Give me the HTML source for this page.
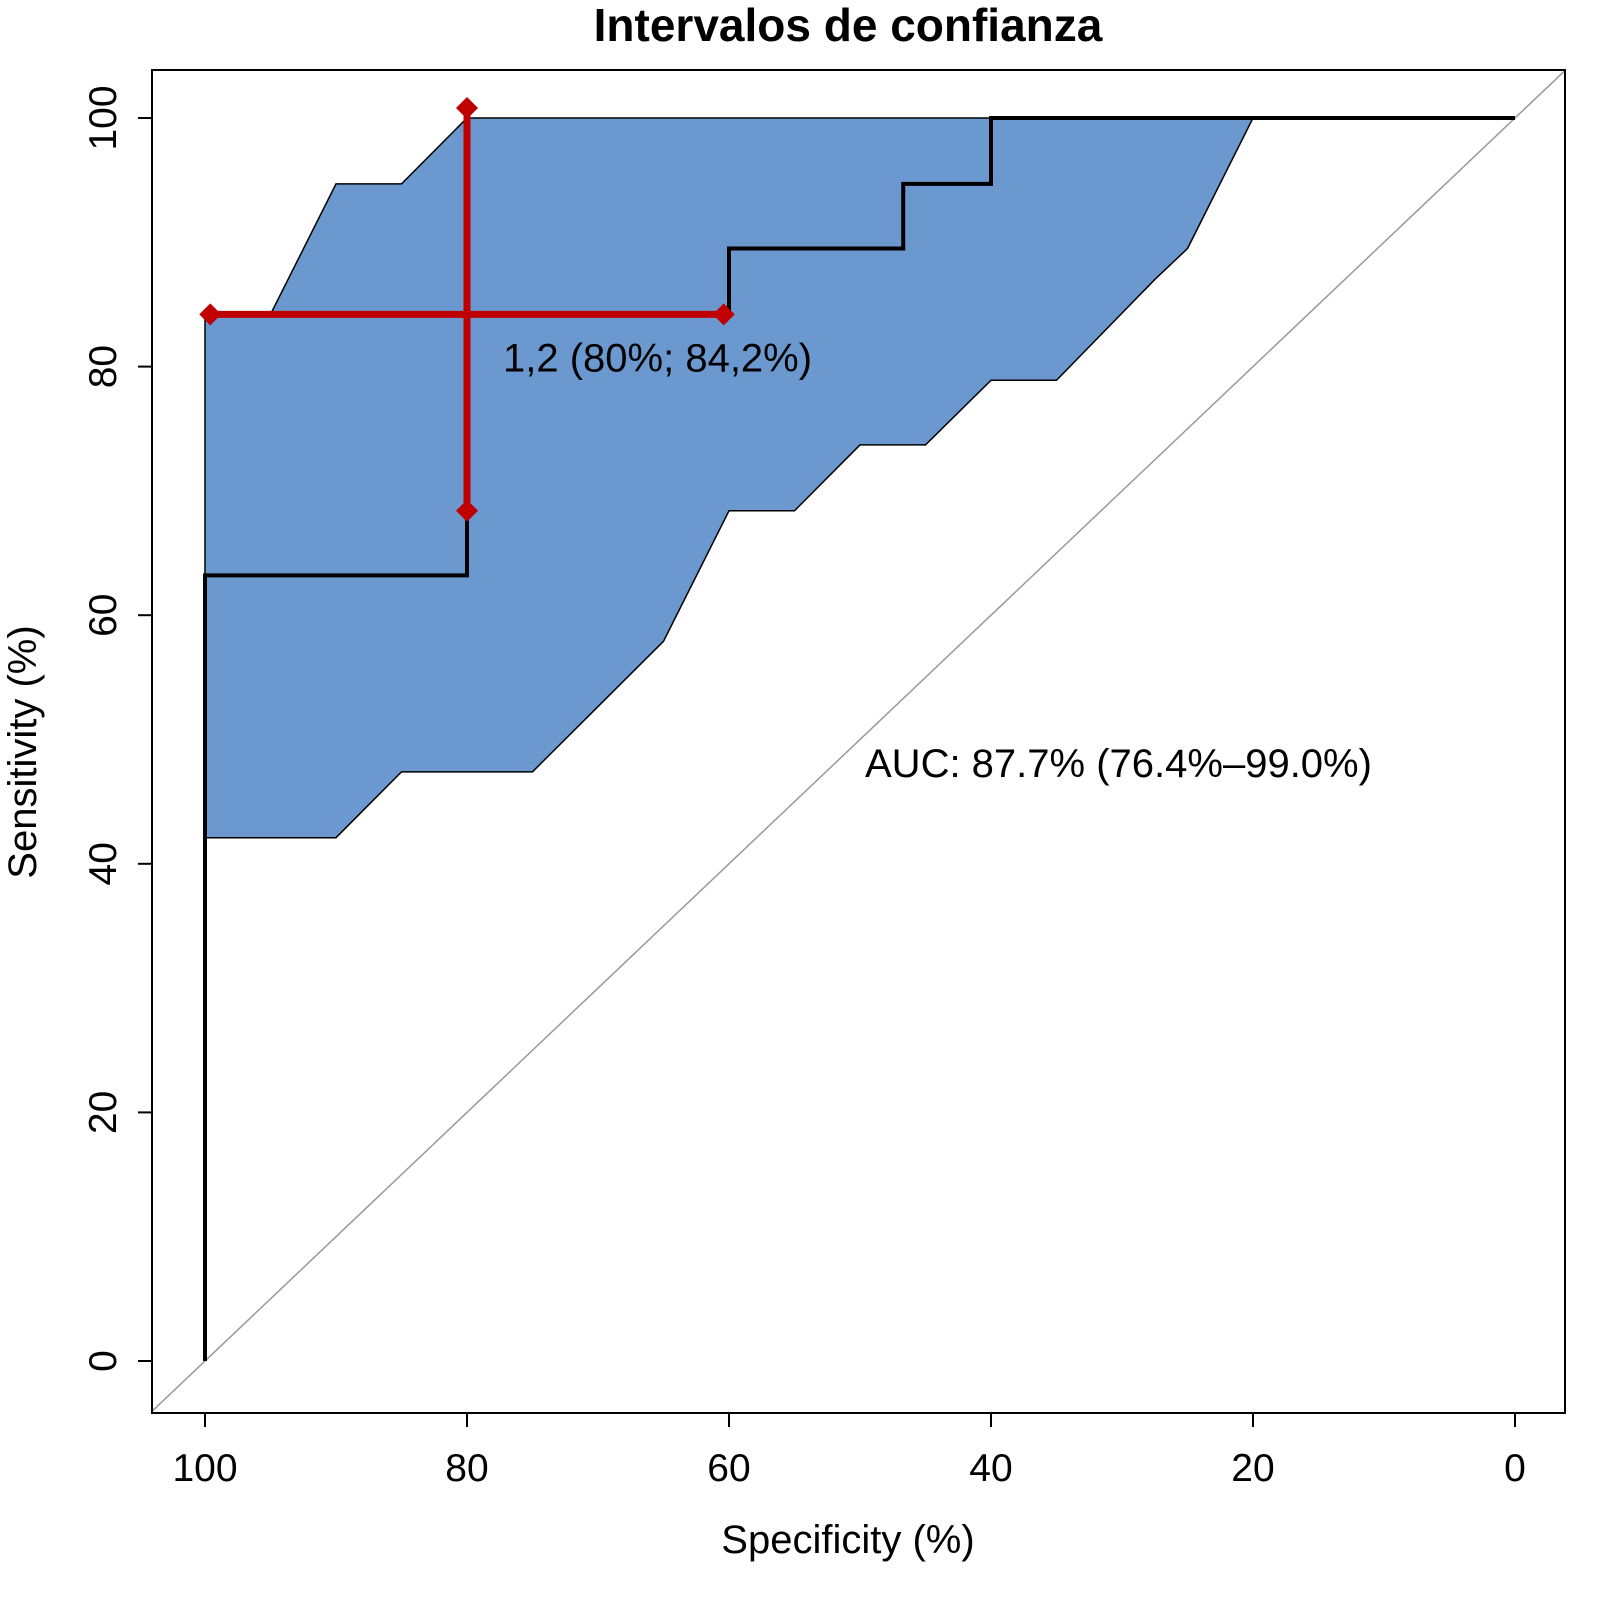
<!DOCTYPE html>
<html><head><meta charset="utf-8"><style>body{margin:0;background:#fff}svg{display:block}text{font-family:"Liberation Sans",sans-serif}</style></head>
<body>
<svg id="c" width="1613" height="1606" viewBox="0 0 1613 1606" xmlns="http://www.w3.org/2000/svg">
<text x="848" y="41" font-size="46" font-weight="bold" text-anchor="middle">Intervalos de confianza</text>
<defs><clipPath id="pc"><rect x="152" y="70" width="1413" height="1343"/></clipPath></defs>
<g id="plot" clip-path="url(#pc)"></g>
<rect x="152" y="70" width="1413" height="1343" fill="none" stroke="#000" stroke-width="2"/>
<g id="axes"></g>
<text x="848" y="1553" font-size="40" text-anchor="middle">Specificity (%)</text>
<text transform="translate(36,752) rotate(-90)" font-size="40" text-anchor="middle">Sensitivity (%)</text>
</svg>
<script>
const xTicks=[100,80,60,40,20,0];
const yTicks=[0,20,40,60,80,100];
const ciUpperSpec=[100,95,90,85,80,20];
const ciUpperSens=[84.2,84.2,94.7,94.7,100,100];
const ciLowerSpec=[20,25,27.5,35,40,45,50,55,60,65,75,85,90,100];
const ciLowerSens=[100,89.5,87,78.9,78.9,73.7,73.7,68.4,68.4,57.9,47.4,47.4,42.1,42.1];
const rocSpec=[100,100,80,80,60,60,46.7,46.7,40,40,0];
const rocSens=[0,63.2,63.2,84.2,84.2,89.5,89.5,94.7,94.7,100,100];
const thrSpec=[80,99.6,60.4];
const thrSens=[84.2,68.4,100.8];
const X=s=>205+(100-s)*13.1, Y=v=>1361-v*12.43;
const NS="http://www.w3.org/2000/svg";
function mk(t,a,p){const e=document.createElementNS(NS,t);for(const k in a)e.setAttribute(k,a[k]);p.appendChild(e);return e;}
const plot=document.getElementById('plot'), axes=document.getElementById('axes');
let pts=[];
ciUpperSpec.forEach((s,i)=>pts.push(X(s)+','+Y(ciUpperSens[i])));
ciLowerSpec.forEach((s,i)=>pts.push(X(s)+','+Y(ciLowerSens[i])));
const band=mk('polygon',{points:pts.join(' '),fill:'#6a98cf',stroke:'#000','stroke-width':1.5},plot);


const diag=mk('line',{x1:X(105),y1:Y(-5),x2:X(-5),y2:Y(105),stroke:'#999','stroke-width':1.5},plot);


const roc=mk('polyline',{points:rocSpec.map((s,i)=>X(s)+','+Y(rocSens[i])).join(' '),fill:'none',stroke:'#000','stroke-width':4},plot);


const h=mk('line',{x1:X(thrSpec[1]),y1:Y(thrSens[0]),x2:X(thrSpec[2]),y2:Y(thrSens[0]),stroke:'#c00000','stroke-width':7},plot);


const v=mk('line',{x1:X(thrSpec[0]),y1:Y(thrSens[1]),x2:X(thrSpec[0]),y2:Y(thrSens[2]),stroke:'#c00000','stroke-width':7},plot);


[[thrSpec[1],thrSens[0]],[thrSpec[2],thrSens[0]],[thrSpec[0],thrSens[1]],[thrSpec[0],thrSens[2]]].forEach(([s,q])=>{
 const cx=X(s),cy=Y(q);
 const d=mk('polygon',{points:`${cx},${cy-11} ${cx+11},${cy} ${cx},${cy+11} ${cx-11},${cy}`,fill:'#c00000'},plot);
 
 
});
const t1=mk('text',{x:X(thrSpec[0])+36,y:Y(thrSens[0])+57,'font-size':40},plot);t1.textContent='1,2 (80%; 84,2%)';


const t2=mk('text',{x:865,y:777,'font-size':40},plot);t2.textContent='AUC: 87.7% (76.4%–99.0%)';


mk('line',{x1:X(100),y1:1413,x2:X(0),y2:1413,stroke:'#000','stroke-width':2},axes);
xTicks.forEach(t=>{
 mk('line',{x1:X(t),y1:1413,x2:X(t),y2:1427,stroke:'#000','stroke-width':2},axes);
 const e=mk('text',{x:X(t),y:1481,'font-size':39,'text-anchor':'middle'},axes);e.textContent=t;
 
 
});
yTicks.forEach(t=>{
 mk('line',{x1:138,y1:Y(t),x2:152,y2:Y(t),stroke:'#000','stroke-width':2},axes);
 const e=mk('text',{transform:`translate(116,${Y(t)}) rotate(-90)`,'font-size':39,'text-anchor':'middle'},axes);e.textContent=t;
 
 
});
</script>
</body></html>
